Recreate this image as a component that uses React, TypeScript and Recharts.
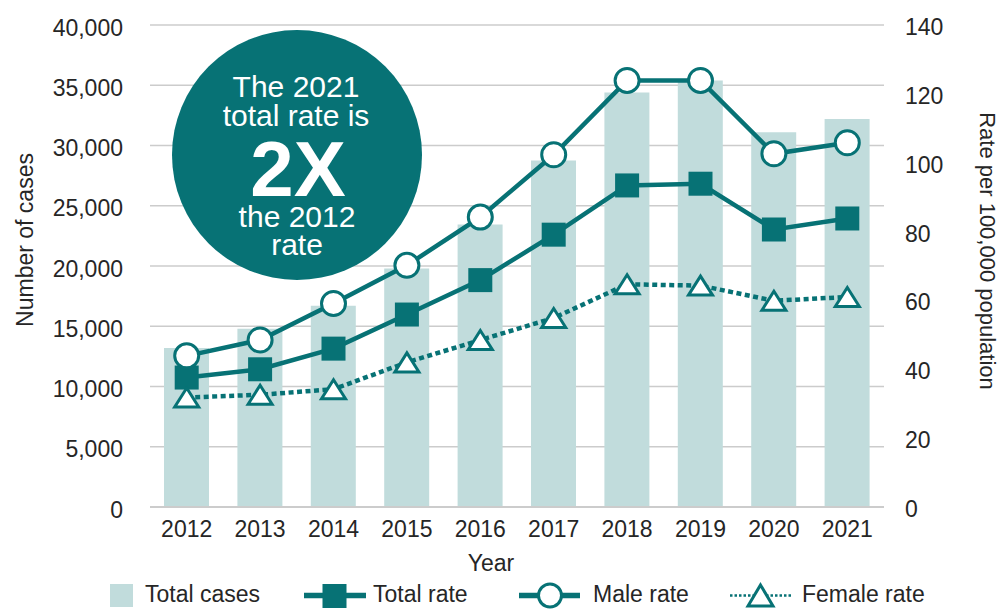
import React from 'react';
import { ComposedChart, Bar, Line, XAxis, YAxis, CartesianGrid, Legend, Customized } from 'recharts';

const years = ['2012', '2013', '2014', '2015', '2016', '2017', '2018', '2019', '2020', '2021'];
const totalCases = [13200, 14800, 16700, 19800, 23450, 28750, 34400, 35400, 31100, 32200];
const totalRate = [37.6, 40.0, 46.0, 55.9, 65.9, 79.1, 93.4, 93.9, 80.6, 83.8];
const maleRate = [43.9, 48.5, 59.1, 70.2, 84.2, 102.3, 123.9, 123.9, 102.6, 105.8];
const femaleRate = [31.8, 32.6, 34.2, 42.0, 48.5, 54.9, 64.7, 64.3, 59.9, 61.0];
const leftTicks = [0, 5000, 10000, 15000, 20000, 25000, 30000, 35000, 40000];
const rightTicks = [0, 20, 40, 60, 80, 100, 120, 140];

const data = years.map((y, i) => ({
  year: y,
  cases: totalCases[i],
  total: totalRate[i],
  male: maleRate[i],
  female: femaleRate[i],
}));

const TEAL = '#077275';
const BAR = '#c1dcdc';
const GRID = '#cccccc';
const TXT = '#262626';
const FONT = '"Liberation Sans", Arial, sans-serif';

const fmt = (v: number) => v.toLocaleString('en-US');

const LeftTick = (p: any) => (
  <text x={p.x} y={p.y + 10.5} textAnchor="end" fontSize={23} fontFamily={FONT} fill={TXT}>
    {fmt(p.payload.value)}
  </text>
);
const RightTick = (p: any) => (
  <text x={p.x} y={p.y + 10} textAnchor="start" fontSize={23} fontFamily={FONT} fill={TXT}>
    {p.payload.value}
  </text>
);
const BottomTick = (p: any) => (
  <text x={p.x} y={p.y + 22} textAnchor="middle" fontSize={23} fontFamily={FONT} fill={TXT}>
    {p.payload.value}
  </text>
);

const SquareDot = (p: any) => {
  if (p.cx == null || p.cy == null) return <g key={p.index} />;
  return <rect key={p.index} x={p.cx - 12} y={p.cy - 12} width={24} height={24} fill={TEAL} />;
};
const CircleDot = (p: any) => {
  if (p.cx == null || p.cy == null) return <g key={p.index} />;
  return <circle key={p.index} cx={p.cx} cy={p.cy} r={12} fill="#ffffff" stroke={TEAL} strokeWidth={3} />;
};
const TriDot = (p: any) => {
  if (p.cx == null || p.cy == null) return <g key={p.index} />;
  const { cx, cy } = p;
  return (
    <path
      key={p.index}
      d={`M${cx},${cy - 9.5} L${cx + 12},${cy + 9.5} L${cx - 12},${cy + 9.5} Z`}
      fill="#ffffff"
      stroke={TEAL}
      strokeWidth={3}
      strokeLinejoin="miter"
    />
  );
};

const Annotation = () => (
  <g>
    <circle cx={297} cy={155} r={125} fill={TEAL} />
    <text fontFamily={FONT} fill="#ffffff" textAnchor="middle" fontSize={30}>
      <tspan x={296} y={97}>The 2021</tspan>
      <tspan x={296} y={126}>total rate is</tspan>
      <tspan x={298} y={196} fontSize={78} fontWeight="bold">2X</tspan>
      <tspan x={297} y={227}>the 2012</tspan>
      <tspan x={297} y={255}>rate</tspan>
    </text>
  </g>
);

const LeftTitle = () => (
  <text x={33} y={240} transform="rotate(-90 33 240)" textAnchor="middle" fontSize={23} fontFamily={FONT} fill={TXT}>
    Number of cases
  </text>
);
const RightTitle = () => (
  <text x={980} y={251} transform="rotate(90 980 251)" textAnchor="middle" fontSize={22} fontFamily={FONT} fill={TXT}>
    Rate per 100,000 population
  </text>
);
const XTitle = () => (
  <text x={491} y={571} textAnchor="middle" fontSize={23} fontFamily={FONT} fill={TXT}>
    Year
  </text>
);

const LegendContent = () => (
  <svg width={1001} height={38} style={{ display: 'block' }}>
    <g fontFamily={FONT} fontSize={23} fill={TXT}>
      <rect x={110} y={9} width={23} height={23} fill={BAR} />
      <text x={145} y={27}>Total cases</text>

      <line x1={304} x2={366} y1={20.5} y2={20.5} stroke={TEAL} strokeWidth={5.5} />
      <rect x={322.5} y={9} width={24} height={24} fill={TEAL} />
      <text x={373} y={27}>Total rate</text>

      <line x1={519} x2={580} y1={20.5} y2={20.5} stroke={TEAL} strokeWidth={5.5} />
      <circle cx={550} cy={20.5} r={11.5} fill="#ffffff" stroke={TEAL} strokeWidth={3} />
      <text x={593} y={27}>Male rate</text>

      <line x1={730} x2={792} y1={20.5} y2={20.5} stroke={TEAL} strokeWidth={2.5} strokeDasharray="2.5 2" />
      <path d="M760.5,10 L773,31 L748,31 Z" fill="#ffffff" stroke={TEAL} strokeWidth={3} />
      <text x={802} y={27}>Female rate</text>
    </g>
  </svg>
);

export default function App() {
  return (
    <div style={{ position: 'absolute', left: 0, top: 0, width: 1001, height: 613, background: '#fff' }}>
      <ComposedChart
        width={1001}
        height={613}
        data={data}
        margin={{ top: 25, right: 0, bottom: 0, left: 0 }}
        barCategoryGap={0}
      >
        <CartesianGrid yAxisId="left" vertical={false} stroke={GRID} strokeWidth={1.5} />
        <XAxis
          dataKey="year"
          height={68}
          tickLine={false}
          axisLine={{ stroke: GRID, strokeWidth: 2 }}
          tick={<BottomTick />}
          interval={0}
          label={<XTitle />}
        />
        <YAxis
          yAxisId="left"
          orientation="left"
          width={150}
          domain={[0, 40000]}
          ticks={leftTicks}
          tickLine={false}
          axisLine={false}
          tickSize={0}
          tickMargin={27}
          tick={<LeftTick />}
          interval={0}
          label={<LeftTitle />}
        />
        <YAxis
          yAxisId="right"
          orientation="right"
          width={117}
          domain={[0, 140]}
          ticks={rightTicks}
          tickLine={false}
          axisLine={false}
          tickSize={0}
          tickMargin={21}
          tick={<RightTick />}
          interval={0}
          label={<RightTitle />}
        />
        <Customized component={Annotation} />
        <Bar yAxisId="left" dataKey="cases" name="Total cases" fill={BAR} barSize={45} isAnimationActive={false} />
        <Line
          yAxisId="right"
          dataKey="total"
          name="Total rate"
          stroke={TEAL}
          strokeWidth={4.5}
          dot={SquareDot}
          activeDot={false}
          isAnimationActive={false}
        />
        <Line
          yAxisId="right"
          dataKey="male"
          name="Male rate"
          stroke={TEAL}
          strokeWidth={4.5}
          dot={CircleDot}
          activeDot={false}
          isAnimationActive={false}
        />
        <Line
          yAxisId="right"
          dataKey="female"
          name="Female rate"
          stroke={TEAL}
          strokeWidth={4.5}
          strokeDasharray="5 3.5"
          dot={TriDot}
          activeDot={false}
          isAnimationActive={false}
        />
        <Legend
          verticalAlign="bottom"
          align="left"
          content={<LegendContent />}
          wrapperStyle={{ left: 0, bottom: 0, width: 1001, height: 38 }}
        />
      </ComposedChart>
    </div>
  );
}
